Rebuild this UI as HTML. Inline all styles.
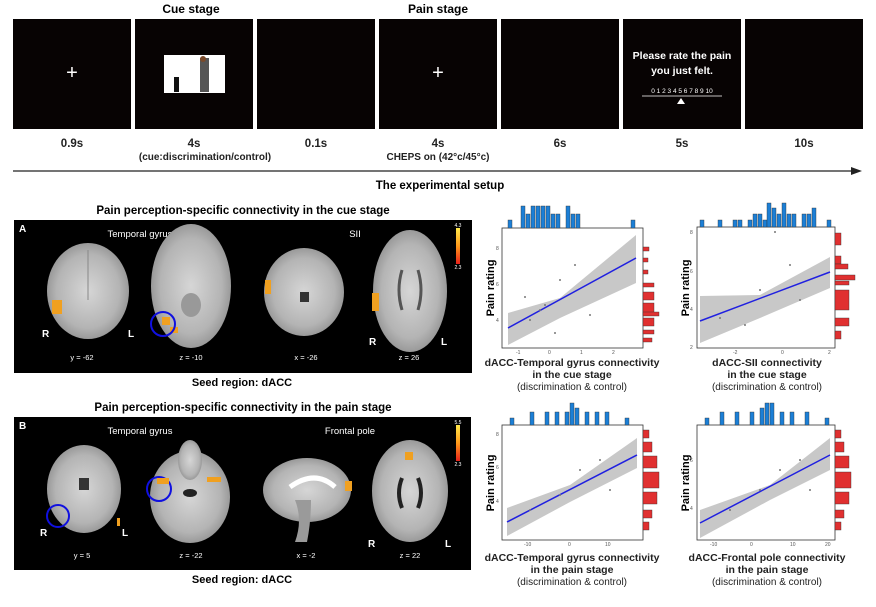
<!DOCTYPE html>
<html><head><meta charset="utf-8"><style>
body{margin:0;background:#fff;}
svg{display:block;font-family:"Liberation Sans",Arial,sans-serif;}
.b{font-weight:bold;}
</style></head><body>
<svg width="876" height="607" viewBox="0 0 876 607" xmlns="http://www.w3.org/2000/svg">
<defs>
<radialGradient id="br" cx="50%" cy="50%" r="55%"><stop offset="0" stop-color="#d6d6d6"/><stop offset="0.7" stop-color="#b4b4b4"/><stop offset="1" stop-color="#8e8e8e"/></radialGradient>
<linearGradient id="cb" x1="0" y1="0" x2="0" y2="1"><stop offset="0" stop-color="#ffe84a"/><stop offset="0.5" stop-color="#ff9a1a"/><stop offset="1" stop-color="#e8201a"/></linearGradient>
</defs>
<text x="191" y="13" font-size="12" class="b" text-anchor="middle">Cue stage</text>
<text x="438" y="13" font-size="12" class="b" text-anchor="middle">Pain stage</text>
<g fill="#070303">
<rect x="13" y="19" width="118" height="110"/><rect x="135" y="19" width="118" height="110"/><rect x="257" y="19" width="118" height="110"/><rect x="379" y="19" width="118" height="110"/><rect x="501" y="19" width="118" height="110"/><rect x="623" y="19" width="118" height="110"/><rect x="745" y="19" width="118" height="110"/>
</g>
<text x="72" y="79" font-size="20" fill="#fff" text-anchor="middle">+</text>
<text x="438" y="79" font-size="20" fill="#fff" text-anchor="middle">+</text>
<rect x="164" y="55" width="61" height="38" fill="#fff"/>
<rect x="200" y="58" width="9" height="34" fill="#555"/><circle cx="203" cy="59" r="3" fill="#7a4a2a"/>
<rect x="174" y="77" width="5" height="15" fill="#111"/>
<text x="682" y="59" font-size="10.5" fill="#fff" class="b" text-anchor="middle">Please rate the pain</text>
<text x="682" y="74" font-size="10.5" fill="#fff" class="b" text-anchor="middle">you just felt.</text>
<text x="682" y="93" font-size="6.5" fill="#fff" text-anchor="middle">0 1 2 3 4 5 6 7 8 9 10</text>
<line x1="642" y1="96" x2="722" y2="96" stroke="#fff" stroke-width="0.8"/>
<polygon points="681,98 677,104 685,104" fill="#fff"/>
<g font-size="11.5" class="b" text-anchor="middle" fill="#222">
<text x="72" y="147">0.9s</text><text x="194" y="147">4s</text><text x="316" y="147">0.1s</text><text x="438" y="147">4s</text><text x="560" y="147">6s</text><text x="682" y="147">5s</text><text x="804" y="147">10s</text>
</g>
<text x="205" y="160" font-size="10" class="b" text-anchor="middle" fill="#222">(cue:discrimination/control)</text>
<text x="438" y="160" font-size="10" class="b" text-anchor="middle" fill="#222">CHEPS on (42°c/45°c)</text>
<line x1="13" y1="171" x2="855" y2="171" stroke="#222" stroke-width="1.2"/>
<polygon points="862,171 851,167 851,175" fill="#222"/>
<text x="440" y="189" font-size="11.5" class="b" text-anchor="middle">The experimental setup</text>

<text x="243" y="214" font-size="11.5" class="b" text-anchor="middle">Pain perception-specific connectivity in the cue stage</text>
<rect x="14" y="220" width="458" height="153" fill="#000"/>
<text x="19" y="232" font-size="10" class="b" fill="#fff">A</text>
<text x="140" y="237" font-size="9.5" fill="#fff" text-anchor="middle">Temporal gyrus</text>
<text x="355" y="237" font-size="9.5" fill="#fff" text-anchor="middle">SII</text>
<ellipse cx="88" cy="291" rx="41" ry="48" fill="url(#br)"/>
<ellipse cx="191" cy="286" rx="40" ry="62" fill="url(#br)"/>
<ellipse cx="304" cy="292" rx="40" ry="44" fill="url(#br)"/>
<ellipse cx="410" cy="291" rx="37" ry="61" fill="url(#br)"/>
<line x1="88" y1="250" x2="88" y2="300" stroke="#888" stroke-width="1"/>
<ellipse cx="191" cy="305" rx="10" ry="12" fill="#999"/>
<rect x="300" y="292" width="9" height="10" fill="#333"/>
<path d="M402 270 q-6 20 0 40 M418 270 q6 20 0 40" stroke="#555" stroke-width="3" fill="none"/>
<rect x="52" y="300" width="10" height="14" fill="#f0a020"/>
<rect x="162" y="317" width="8" height="8" fill="#f0a020"/><rect x="170" y="327" width="8" height="6" fill="#f0a020"/>
<rect x="265" y="280" width="6" height="14" fill="#f0a020"/>
<rect x="372" y="293" width="7" height="18" fill="#f0a020"/>
<circle cx="163" cy="324" r="12" fill="none" stroke="#1010e0" stroke-width="2"/>
<g font-size="10" class="b" fill="#fff"><text x="42" y="337">R</text><text x="128" y="337">L</text><text x="369" y="345">R</text><text x="441" y="345">L</text></g>
<g font-size="7.5" fill="#fff" text-anchor="middle"><text x="82" y="360">y = -62</text><text x="191" y="360">z = -10</text><text x="306" y="360">x = -26</text><text x="409" y="360">z = 26</text></g>
<rect x="456" y="228" width="4" height="36" fill="url(#cb)"/>
<text x="458" y="227" font-size="5" fill="#fff" text-anchor="middle">4.3</text><text x="458" y="269" font-size="5" fill="#fff" text-anchor="middle">2.3</text>
<text x="242" y="386" font-size="11" class="b" text-anchor="middle">Seed region: dACC</text>

<text x="243" y="411" font-size="11.5" class="b" text-anchor="middle">Pain perception-specific connectivity in the pain stage</text>
<rect x="14" y="417" width="457" height="153" fill="#000"/>
<text x="19" y="429" font-size="10" class="b" fill="#fff">B</text>
<text x="140" y="434" font-size="9.5" fill="#fff" text-anchor="middle">Temporal gyrus</text>
<text x="350" y="434" font-size="9.5" fill="#fff" text-anchor="middle">Frontal pole</text>
<ellipse cx="84" cy="489" rx="37" ry="44" fill="url(#br)"/>
<ellipse cx="190" cy="497" rx="40" ry="46" fill="url(#br)"/><ellipse cx="190" cy="460" rx="12" ry="20" fill="url(#br)"/>
<ellipse cx="307" cy="490" rx="44" ry="32" fill="url(#br)"/><path d="M295 500 q8 20 0 42 h12 q4 -20 4 -42z" fill="#9a9a9a"/>
<ellipse cx="410" cy="491" rx="38" ry="51" fill="url(#br)"/>
<rect x="79" y="478" width="10" height="12" fill="#333"/>
<ellipse cx="190" cy="493" rx="7" ry="4" fill="#222"/>
<path d="M290 487 q25 -18 45 0" stroke="#fff" stroke-width="5" fill="none"/>
<path d="M402 478 q-6 15 0 30 M418 478 q6 15 0 30" stroke="#222" stroke-width="4" fill="none"/>
<circle cx="58" cy="516" r="11" fill="none" stroke="#1010e0" stroke-width="2"/>
<circle cx="159" cy="489" r="12" fill="none" stroke="#1010e0" stroke-width="2"/>
<rect x="157" y="478" width="12" height="6" fill="#f0a020"/><rect x="207" y="477" width="14" height="5" fill="#f0a020"/>
<rect x="345" y="481" width="7" height="10" fill="#f0a020"/><rect x="405" y="452" width="8" height="8" fill="#f0a020"/><rect x="117" y="518" width="3" height="8" fill="#f0a020"/>
<g font-size="10" class="b" fill="#fff"><text x="40" y="536">R</text><text x="122" y="536">L</text><text x="368" y="547">R</text><text x="445" y="547">L</text></g>
<g font-size="7.5" fill="#fff" text-anchor="middle"><text x="82" y="558">y = 5</text><text x="191" y="558">z = -22</text><text x="306" y="558">x = -2</text><text x="410" y="558">z = 22</text></g>
<rect x="456" y="425" width="4" height="36" fill="url(#cb)"/>
<text x="458" y="424" font-size="5" fill="#fff" text-anchor="middle">5.5</text><text x="458" y="466" font-size="5" fill="#fff" text-anchor="middle">2.3</text>
<text x="242" y="583" font-size="11" class="b" text-anchor="middle">Seed region: dACC</text>

<g>
<rect x="502" y="228" width="141" height="120" fill="#fff" stroke="#333" stroke-width="0.8"/>
<polygon points="508,313 560,298 636,235 636,283 560,318 508,345" fill="#c8c8c8"/>
<line x1="508" y1="328" x2="636" y2="258" stroke="#2020e0" stroke-width="1.5"/>
<g fill="#1c7fd6" stroke="#333" stroke-width="0.4"><rect x="508" y="220" width="4" height="8"/><rect x="521" y="206" width="4" height="22"/><rect x="526" y="214" width="4" height="14"/><rect x="531" y="206" width="4" height="22"/><rect x="536" y="206" width="4" height="22"/><rect x="541" y="206" width="4" height="22"/><rect x="546" y="206" width="4" height="22"/><rect x="551" y="214" width="4" height="14"/><rect x="556" y="214" width="4" height="14"/><rect x="566" y="206" width="4" height="22"/><rect x="571" y="214" width="4" height="14"/><rect x="576" y="214" width="4" height="14"/><rect x="631" y="220" width="4" height="8"/></g>
<g fill="#e03030" stroke="#333" stroke-width="0.4"><rect x="643" y="247" width="6" height="4"/><rect x="643" y="258" width="5" height="4"/><rect x="643" y="270" width="5" height="4"/><rect x="643" y="283" width="11" height="4"/><rect x="643" y="292" width="11" height="8"/><rect x="643" y="303" width="11" height="12"/><rect x="643" y="312" width="16" height="4"/><rect x="643" y="318" width="11" height="8"/><rect x="643" y="330" width="11" height="4"/><rect x="643" y="338" width="9" height="4"/></g>
<text x="494" y="288" font-size="11" class="b" text-anchor="middle" transform="rotate(-90 494 288)">Pain rating</text>
<g font-size="5" fill="#555"><text x="516" y="354">-1</text><text x="548" y="354">0</text><text x="580" y="354">1</text><text x="612" y="354">2</text></g>
<g font-size="5" fill="#555"><text x="496" y="250">8</text><text x="496" y="286">6</text><text x="496" y="322">4</text></g>
</g>
<g>
<rect x="697" y="227" width="138" height="121" fill="#fff" stroke="#333" stroke-width="0.8"/>
<polygon points="700,296 760,295 830,257 830,288 760,318 700,343" fill="#c8c8c8"/>
<line x1="700" y1="321" x2="830" y2="272" stroke="#2020e0" stroke-width="1.5"/>
<g fill="#1c7fd6" stroke="#333" stroke-width="0.4"><rect x="700" y="220" width="4" height="7"/><rect x="718" y="220" width="4" height="7"/><rect x="733" y="220" width="4" height="7"/><rect x="738" y="220" width="4" height="7"/><rect x="748" y="220" width="4" height="7"/><rect x="753" y="214" width="4" height="13"/><rect x="758" y="214" width="4" height="13"/><rect x="763" y="220" width="4" height="7"/><rect x="767" y="203" width="4" height="24"/><rect x="772" y="208" width="4" height="19"/><rect x="777" y="214" width="4" height="13"/><rect x="782" y="203" width="4" height="24"/><rect x="787" y="214" width="4" height="13"/><rect x="792" y="214" width="4" height="13"/><rect x="802" y="214" width="4" height="13"/><rect x="807" y="214" width="4" height="13"/><rect x="812" y="208" width="4" height="19"/><rect x="827" y="220" width="4" height="7"/></g>
<g fill="#e03030" stroke="#333" stroke-width="0.4"><rect x="835" y="233" width="6" height="12"/><rect x="835" y="256" width="6" height="8"/><rect x="835" y="264" width="13" height="5"/><rect x="835" y="275" width="20" height="5"/><rect x="835" y="281" width="14" height="4"/><rect x="835" y="290" width="14" height="20"/><rect x="835" y="318" width="14" height="8"/><rect x="835" y="331" width="6" height="8"/></g>
<text x="689" y="288" font-size="11" class="b" text-anchor="middle" transform="rotate(-90 689 288)">Pain rating</text>
<g font-size="5" fill="#555"><text x="733" y="354">-2</text><text x="781" y="354">0</text><text x="828" y="354">2</text></g>
<g font-size="5" fill="#555"><text x="690" y="234">8</text><text x="690" y="273">6</text><text x="690" y="311">4</text><text x="690" y="349">2</text></g>
</g>
<g>
<rect x="502" y="425" width="141" height="115" fill="#fff" stroke="#333" stroke-width="0.8"/>
<polygon points="507,508 570,485 637,438 637,468 570,502 507,536" fill="#c8c8c8"/>
<line x1="507" y1="522" x2="637" y2="455" stroke="#2020e0" stroke-width="1.5"/>
<g fill="#1c7fd6" stroke="#333" stroke-width="0.4"><rect x="510" y="418" width="4" height="7"/><rect x="530" y="412" width="4" height="13"/><rect x="545" y="412" width="4" height="13"/><rect x="555" y="412" width="4" height="13"/><rect x="565" y="412" width="4" height="13"/><rect x="570" y="403" width="4" height="22"/><rect x="575" y="408" width="4" height="17"/><rect x="585" y="412" width="4" height="13"/><rect x="595" y="412" width="4" height="13"/><rect x="605" y="412" width="4" height="13"/><rect x="625" y="418" width="4" height="7"/></g>
<g fill="#e03030" stroke="#333" stroke-width="0.4"><rect x="643" y="430" width="6" height="8"/><rect x="643" y="442" width="9" height="10"/><rect x="643" y="456" width="14" height="12"/><rect x="643" y="472" width="16" height="16"/><rect x="643" y="492" width="14" height="12"/><rect x="643" y="510" width="9" height="8"/><rect x="643" y="522" width="6" height="8"/></g>
<text x="494" y="483" font-size="11" class="b" text-anchor="middle" transform="rotate(-90 494 483)">Pain rating</text>
<g font-size="5" fill="#555"><text x="524" y="546">-10</text><text x="568" y="546">0</text><text x="605" y="546">10</text></g>
<g font-size="5" fill="#555"><text x="496" y="436">8</text><text x="496" y="469">6</text><text x="496" y="503">4</text></g>
</g>
<g>
<rect x="697" y="425" width="138" height="115" fill="#fff" stroke="#333" stroke-width="0.8"/>
<polygon points="700,510 770,485 830,438 830,470 770,500 700,538" fill="#c8c8c8"/>
<line x1="700" y1="523" x2="830" y2="455" stroke="#2020e0" stroke-width="1.5"/>
<g fill="#1c7fd6" stroke="#333" stroke-width="0.4"><rect x="705" y="418" width="4" height="7"/><rect x="720" y="412" width="4" height="13"/><rect x="735" y="412" width="4" height="13"/><rect x="750" y="412" width="4" height="13"/><rect x="760" y="408" width="4" height="17"/><rect x="765" y="403" width="4" height="22"/><rect x="770" y="403" width="4" height="22"/><rect x="780" y="412" width="4" height="13"/><rect x="790" y="412" width="4" height="13"/><rect x="805" y="412" width="4" height="13"/><rect x="825" y="418" width="4" height="7"/></g>
<g fill="#e03030" stroke="#333" stroke-width="0.4"><rect x="835" y="430" width="6" height="8"/><rect x="835" y="442" width="9" height="10"/><rect x="835" y="456" width="14" height="12"/><rect x="835" y="472" width="16" height="16"/><rect x="835" y="492" width="14" height="12"/><rect x="835" y="510" width="9" height="8"/><rect x="835" y="522" width="6" height="8"/></g>
<text x="689" y="483" font-size="11" class="b" text-anchor="middle" transform="rotate(-90 689 483)">Pain rating</text>
<g font-size="5" fill="#555"><text x="710" y="546">-10</text><text x="750" y="546">0</text><text x="790" y="546">10</text><text x="825" y="546">20</text></g>
<g font-size="5" fill="#555"><text x="690" y="462">6</text><text x="690" y="510">4</text></g>
</g>
<g fill="#777">
<circle cx="525" cy="297" r="1"/><circle cx="545" cy="305" r="1"/><circle cx="560" cy="280" r="1"/><circle cx="575" cy="265" r="1"/><circle cx="530" cy="320" r="1"/><circle cx="555" cy="333" r="1"/><circle cx="590" cy="315" r="1"/><circle cx="540" cy="310" r="1"/>
<circle cx="760" cy="290" r="1"/><circle cx="790" cy="265" r="1"/><circle cx="800" cy="300" r="1"/><circle cx="745" cy="325" r="1"/><circle cx="775" cy="232" r="1"/><circle cx="720" cy="318" r="1"/>
<circle cx="560" cy="495" r="1"/><circle cx="580" cy="470" r="1"/><circle cx="600" cy="460" r="1"/><circle cx="530" cy="510" r="1"/><circle cx="610" cy="490" r="1"/>
<circle cx="760" cy="490" r="1"/><circle cx="780" cy="470" r="1"/><circle cx="800" cy="460" r="1"/><circle cx="730" cy="510" r="1"/><circle cx="810" cy="490" r="1"/>
</g>
<g font-size="10.5" class="b" text-anchor="middle" fill="#222">
<text x="572" y="366">dACC-Temporal gyrus connectivity</text><text x="572" y="378">in the cue stage</text>
<text x="767" y="366">dACC-SII connectivity</text><text x="767" y="378">in the cue stage</text>
<text x="572" y="561">dACC-Temporal gyrus connectivity</text><text x="572" y="573">in the pain stage</text>
<text x="767" y="561">dACC-Frontal pole connectivity</text><text x="767" y="573">in the pain stage</text>
</g>
<g font-size="10" text-anchor="middle" fill="#222">
<text x="572" y="390">(discrimination &amp; control)</text><text x="767" y="390">(discrimination &amp; control)</text>
<text x="572" y="585">(discrimination &amp; control)</text><text x="767" y="585">(discrimination &amp; control)</text>
</g>
</svg>
</body></html>
